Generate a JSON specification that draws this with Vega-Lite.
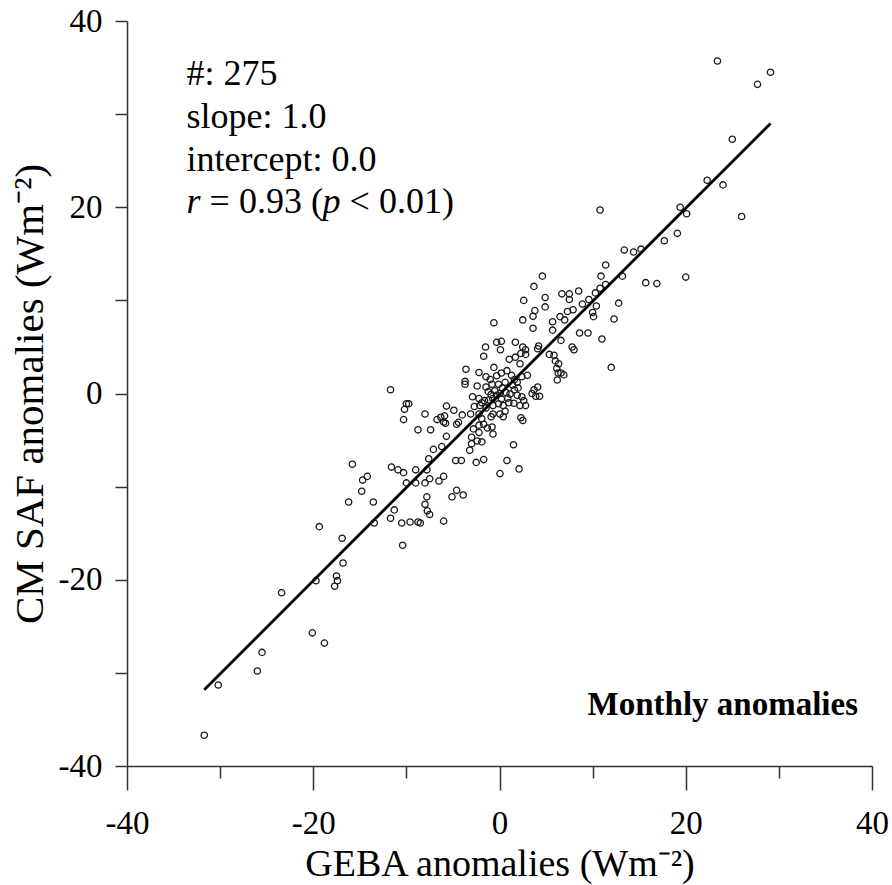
{
  "$schema": "https://vega.github.io/schema/vega-lite/v6.json",
  "width": 745,
  "height": 745,
  "autosize": {"type": "none"},
  "padding": {"left": 127, "top": 21, "right": 20, "bottom": 119},
  "background": "white",
  "config": {"view": {"stroke": null}, "font": "Liberation Serif"},
  "datasets": {
    "points": [
      {"x":23.4,"y":35.7},{"x":29.1,"y":34.5},{"x":27.7,"y":33.2},{"x":25.0,"y":27.3},{"x":22.3,"y":22.9},{"x":24.0,"y":22.4},{"x":19.4,"y":20.0},{"x":20.1,"y":19.3},{"x":26.0,"y":19.0},{"x":10.8,"y":19.7},
      {"x":19.1,"y":17.2},{"x":17.7,"y":16.4},{"x":13.4,"y":15.4},{"x":14.4,"y":15.2},{"x":15.2,"y":15.5},{"x":11.4,"y":13.8},{"x":10.9,"y":12.6},{"x":13.2,"y":12.6},{"x":15.7,"y":11.9},{"x":16.9,"y":11.8},
      {"x":20.0,"y":12.5},{"x":8.5,"y":11.0},{"x":6.7,"y":10.7},{"x":7.5,"y":10.7},{"x":7.5,"y":10.1},{"x":12.8,"y":9.7},{"x":8.9,"y":9.6},{"x":9.6,"y":10.1},{"x":10.3,"y":10.8},{"x":10.8,"y":11.3},
      {"x":11.4,"y":11.7},{"x":10.4,"y":9.4},{"x":10.0,"y":8.7},{"x":10.1,"y":8.25},{"x":12.3,"y":8.0},{"x":7.3,"y":8.8},{"x":7.9,"y":9.0},{"x":6.5,"y":8.25},{"x":5.7,"y":7.7},{"x":7.0,"y":7.9},
      {"x":8.6,"y":6.5},{"x":9.5,"y":6.5},{"x":11.0,"y":5.85},{"x":5.7,"y":6.8},
      {"x":4.6,"y":12.6},{"x":12.0,"y":2.8},{"x":3.7,"y":11.5},{"x":4.9,"y":10.3},{"x":2.6,"y":10.0},{"x":4.9,"y":9.3},{"x":3.8,"y":8.9},{"x":3.6,"y":8.3},{"x":2.5,"y":7.9},{"x":-0.6,"y":7.6},
      {"x":3.6,"y":7.0},{"x":6.6,"y":5.7},{"x":7.8,"y":5.0},{"x":8.0,"y":4.7},{"x":-0.3,"y":5.5},{"x":0.2,"y":5.6},{"x":1.7,"y":5.5},{"x":-1.5,"y":5.0},{"x":-1.7,"y":4.0},{"x":0.1,"y":4.7},
      {"x":2.5,"y":5.0},{"x":2.8,"y":4.7},{"x":2.8,"y":4.2},{"x":2.3,"y":4.3},{"x":4.2,"y":5.1},{"x":4.1,"y":4.8},{"x":1.05,"y":3.67},{"x":1.7,"y":3.9},{"x":2.2,"y":3.2},
      {"x":5.35,"y":4.2},{"x":5.85,"y":4.1},{"x":6.0,"y":3.5},{"x":6.35,"y":3.2},{"x":6.15,"y":2.7},{"x":6.3,"y":2.2},{"x":6.6,"y":2.2},{"x":6.9,"y":2.0},{"x":6.2,"y":1.45},
      {"x":-0.6,"y":2.8},{"x":-3.6,"y":2.6},{"x":-2.2,"y":2.25},{"x":-1.45,"y":1.8},{"x":-1.0,"y":1.5},{"x":-0.3,"y":1.9},{"x":0.2,"y":2.2},{"x":0.8,"y":2.45},{"x":1.3,"y":1.95},
      {"x":1.6,"y":1.5},{"x":1.9,"y":1.2},{"x":2.4,"y":1.8},{"x":3.0,"y":1.95},{"x":-3.7,"y":1.0},{"x":-3.7,"y":1.3},{"x":-2.4,"y":0.8},{"x":-1.45,"y":0.7},{"x":-0.8,"y":1.0},{"x":-0.1,"y":1.0},
      {"x":3.7,"y":0.4},{"x":4.3,"y":-0.3},{"x":3.9,"y":-0.3},{"x":3.5,"y":0.0},{"x":4.1,"y":0.7},
      {"x":-2.9,"y":-0.35},{"x":-2.2,"y":-0.55},{"x":-1.6,"y":-0.77},{"x":-1.16,"y":-0.7},{"x":-0.73,"y":-0.55},{"x":-0.3,"y":-0.2},{"x":0.05,"y":0.0},{"x":0.7,"y":0.1},{"x":1.13,"y":-0.05},{"x":1.6,"y":0.4},{"x":1.9,"y":-0.2},{"x":2.4,"y":-0.35},{"x":2.6,"y":-0.77},
      {"x":-2.7,"y":-1.4},{"x":-2.1,"y":-1.3},{"x":-1.45,"y":-1.55},{"x":-0.7,"y":-1.3},{"x":-0.1,"y":-1.1},{"x":0.4,"y":-1.3},{"x":0.6,"y":-1.9},{"x":1.0,"y":-1.0},{"x":1.55,"y":-1.05},{"x":2.2,"y":-1.3},{"x":2.8,"y":-1.3},
      {"x":0.05,"y":-2.2},{"x":-0.7,"y":-2.2},{"x":-2.2,"y":-2.2},{"x":-1.9,"y":-2.7},{"x":-1.7,"y":-3.3},{"x":-0.9,"y":-2.5},{"x":0.4,"y":-2.5},
      {"x":-5.7,"y":-1.35},{"x":-4.9,"y":-1.8},{"x":-4.0,"y":-2.3},{"x":-3.1,"y":-2.2},
      {"x":-8.0,"y":-2.2},{"x":-6.7,"y":-2.8},{"x":-6.3,"y":-2.55},{"x":-5.9,"y":-2.4},{"x":-6.0,"y":-3.06},{"x":-5.8,"y":-3.2},{"x":-4.4,"y":-3.1},{"x":-4.6,"y":-3.3},
      {"x":-10.0,"y":-1.1},{"x":-9.75,"y":-1.1},{"x":-10.3,"y":-2.8},{"x":-10.2,"y":-1.7},
      {"x":-8.75,"y":-3.9},{"x":-7.4,"y":-3.9},{"x":-5.7,"y":-4.6},
      {"x":-2.8,"y":-3.8},{"x":-2.2,"y":-4.2},{"x":-3.0,"y":-4.7},{"x":-3.0,"y":-5.4},{"x":-3.2,"y":-6.1},{"x":-2.4,"y":-5.1},{"x":-0.8,"y":-3.6},{"x":-0.7,"y":-4.35},{"x":-1.3,"y":-3.7},{"x":-1.9,"y":-5.2},{"x":-2.2,"y":-3.4},
      {"x":2.3,"y":-2.6},{"x":2.5,"y":-2.9},{"x":1.5,"y":-5.5},
      {"x":-7.1,"y":-6.0},{"x":-6.2,"y":-5.7},{"x":-7.6,"y":-7.0},{"x":-4.7,"y":-7.2},{"x":-4.1,"y":-7.2},{"x":-2.5,"y":-7.4},{"x":-1.7,"y":-7.1},
      {"x":0.8,"y":-7.2},{"x":2.1,"y":-8.1},{"x":0.05,"y":-8.6},
      {"x":-9.0,"y":-8.2},{"x":-7.8,"y":-8.2},{"x":-7.5,"y":-9.15},{"x":-6.0,"y":-8.9},{"x":-6.5,"y":-9.4},{"x":-8.0,"y":-9.6},
      {"x":-10.3,"y":-8.5},{"x":-10.0,"y":-9.6},{"x":-9.0,"y":-9.6},
      {"x":-4.6,"y":-10.4},{"x":-3.9,"y":-10.9},{"x":-5.1,"y":-11.1},{"x":-7.8,"y":-11.1},
      {"x":-30.2,"y":-31.3},{"x":-26.0,"y":-29.8},{"x":-25.5,"y":-27.8},{"x":-23.4,"y":-21.4},{"x":-20.1,"y":-25.7},{"x":-18.8,"y":-26.8},{"x":-19.7,"y":-20.1},
      {"x":-17.5,"y":-19.6},{"x":-17.4,"y":-20.1},{"x":-17.7,"y":-20.7},{"x":-16.8,"y":-18.2},{"x":-19.35,"y":-14.3},{"x":-16.9,"y":-15.55},{"x":-16.2,"y":-11.65},
      {"x":-14.8,"y":-10.5},{"x":-13.55,"y":-11.65},{"x":-13.45,"y":-13.9},{"x":-11.7,"y":-13.4},{"x":-11.3,"y":-12.5},{"x":-10.5,"y":-13.9},{"x":-9.6,"y":-13.8},
      {"x":-8.75,"y":-13.8},{"x":-8.5,"y":-13.9},{"x":-10.4,"y":-16.3},{"x":-8.0,"y":-11.9},{"x":-7.75,"y":-12.6},{"x":-7.5,"y":-13.0},{"x":-6.0,"y":-13.7},{"x":-14.7,"y":-9.3},
      {"x":-31.7,"y":-36.7},
      {"x":-11.7,"y":0.4},{"x":-15.8,"y":-7.6},{"x":-11.6,"y":-7.9},{"x":-10.9,"y":-8.2},{"x":-14.2,"y":-8.9},
      {"x":0.3,"y":0.6},{"x":-0.5,"y":0.3},{"x":0.9,"y":-0.5},{"x":-1.2,"y":0.2},{"x":1.4,"y":0.9},{"x":0.2,"y":-0.6},{"x":-0.9,"y":-0.1},{"x":2.0,"y":0.6},{"x":-1.9,"y":-1.0},{"x":0.6,"y":1.2}
    ],
    "fit": [{"x": -31.7, "y": -31.8}, {"x": 29.1, "y": 29.0}],
    "one": [{}]
  },
  "layer": [
    {
      "data": {"name": "points"},
      "mark": {"type": "point", "shape": "circle", "filled": false, "size": 40, "stroke": "#1a1a1a", "strokeWidth": 1.3, "opacity": 1},
      "encoding": {
        "x": {
          "field": "x", "type": "quantitative",
          "scale": {"domain": [-40, 40], "nice": false, "zero": false},
          "axis": {
            "title": "GEBA anomalies (Wm⁻²)",
            "values": [-40, -30, -20, -10, 0, 10, 20, 30, 40],
            "labelExpr": "datum.value % 20 === 0 ? '' + datum.value : ''",
            "tickSize": {"condition": {"test": "datum.value % 20 === 0", "value": 24}, "value": 12},
            "grid": false,
            "domainColor": "#333333", "tickColor": "#333333", "domainWidth": 1.5, "tickWidth": 1.5,
            "labelFont": "Liberation Serif", "labelFontSize": 33, "labelColor": "black", "labelPadding": 17, "labelFlush": false, "labelOverlap": false,
            "titleFont": "Liberation Serif", "titleFontSize": 38, "titleFontWeight": "normal", "titleColor": "black",
            "titleY": 109, "titleBaseline": "alphabetic"
          }
        },
        "y": {
          "field": "y", "type": "quantitative",
          "scale": {"domain": [-40, 40], "nice": false, "zero": false},
          "axis": {
            "title": "CM SAF anomalies (Wm⁻²)",
            "values": [-40, -30, -20, -10, 0, 10, 20, 30, 40],
            "labelExpr": "datum.value % 20 === 0 ? '' + datum.value : ''",
            "tickSize": 12,
            "grid": false,
            "domainColor": "#333333", "tickColor": "#333333", "domainWidth": 1.5, "tickWidth": 1.5,
            "labelFont": "Liberation Serif", "labelFontSize": 33, "labelColor": "black", "labelPadding": 13, "labelFlush": false, "labelOverlap": false,
            "titleFont": "Liberation Serif", "titleFontSize": 41, "titleFontWeight": "normal", "titleColor": "black",
            "titleX": -85, "titleBaseline": "alphabetic"
          }
        }
      }
    },
    {
      "data": {"name": "fit"},
      "mark": {"type": "line", "color": "black", "strokeWidth": 2.8},
      "encoding": {
        "x": {"field": "x", "type": "quantitative"},
        "y": {"field": "y", "type": "quantitative"}
      }
    },
    {
      "data": {"name": "one"},
      "mark": {"type": "text", "text": "#: 275", "align": "left", "baseline": "alphabetic", "font": "Liberation Serif", "fontSize": 36, "color": "black"},
      "encoding": {"x": {"datum": -33.6, "type": "quantitative"}, "y": {"datum": 33.13, "type": "quantitative"}}
    },
    {
      "data": {"name": "one"},
      "mark": {"type": "text", "text": "slope: 1.0", "align": "left", "baseline": "alphabetic", "font": "Liberation Serif", "fontSize": 36, "color": "black"},
      "encoding": {"x": {"datum": -33.6, "type": "quantitative"}, "y": {"datum": 28.51, "type": "quantitative"}}
    },
    {
      "data": {"name": "one"},
      "mark": {"type": "text", "text": "intercept: 0.0", "align": "left", "baseline": "alphabetic", "font": "Liberation Serif", "fontSize": 36, "color": "black"},
      "encoding": {"x": {"datum": -33.6, "type": "quantitative"}, "y": {"datum": 23.89, "type": "quantitative"}}
    },
    {
      "data": {"name": "one"},
      "mark": {"type": "text", "text": "r", "align": "left", "baseline": "alphabetic", "font": "Liberation Serif", "fontStyle": "italic", "fontSize": 36, "color": "black"},
      "encoding": {"x": {"datum": -33.6, "type": "quantitative"}, "y": {"datum": 19.38, "type": "quantitative"}}
    },
    {
      "data": {"name": "one"},
      "mark": {"type": "text", "text": "= 0.93 (", "align": "left", "baseline": "alphabetic", "font": "Liberation Serif", "fontSize": 36, "color": "black", "dx": 23},
      "encoding": {"x": {"datum": -33.6, "type": "quantitative"}, "y": {"datum": 19.38, "type": "quantitative"}}
    },
    {
      "data": {"name": "one"},
      "mark": {"type": "text", "text": "p", "align": "left", "baseline": "alphabetic", "font": "Liberation Serif", "fontStyle": "italic", "fontSize": 36, "color": "black", "dx": 136},
      "encoding": {"x": {"datum": -33.6, "type": "quantitative"}, "y": {"datum": 19.38, "type": "quantitative"}}
    },
    {
      "data": {"name": "one"},
      "mark": {"type": "text", "text": "< 0.01)", "align": "left", "baseline": "alphabetic", "font": "Liberation Serif", "fontSize": 36, "color": "black", "dx": 163},
      "encoding": {"x": {"datum": -33.6, "type": "quantitative"}, "y": {"datum": 19.38, "type": "quantitative"}}
    },
    {
      "data": {"name": "one"},
      "mark": {"type": "text", "text": "Monthly anomalies", "align": "right", "baseline": "alphabetic", "font": "Liberation Serif", "fontWeight": "bold", "fontSize": 33, "color": "black"},
      "encoding": {"x": {"datum": 38.5, "type": "quantitative"}, "y": {"datum": -34.52, "type": "quantitative"}}
    }
  ]
}
